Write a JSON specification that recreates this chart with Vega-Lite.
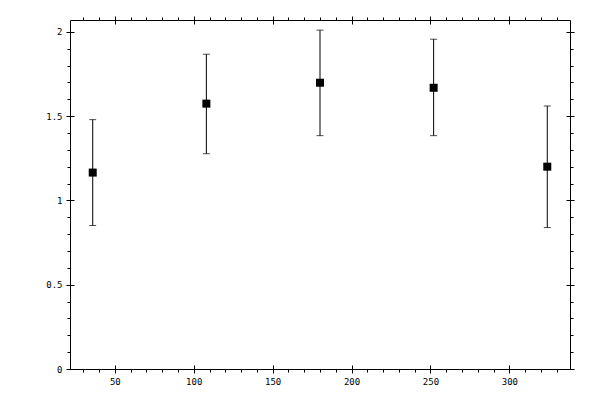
{
  "$schema": "https://vega.github.io/schema/vega-lite/v6.json",
  "width": 500,
  "height": 349,
  "autosize": "none",
  "padding": {"left": 70, "top": 20, "right": 30, "bottom": 31},
  "background": "white",
  "config": {
    "view": {"stroke": "black", "strokeWidth": 1},
    "axis": {
      "grid": false,
      "domain": false,
      "tickColor": "black",
      "tickWidth": 1,
      "labelColor": "black",
      "labelFont": "DejaVu Sans Mono",
      "labelFontSize": 9,
      "title": null
    }
  },
  "data": {
    "values": [
      {"x": 36, "y": 1.165, "lo": 0.851, "hi": 1.479},
      {"x": 108, "y": 1.574, "lo": 1.277, "hi": 1.867},
      {"x": 180, "y": 1.698, "lo": 1.384, "hi": 2.01},
      {"x": 252, "y": 1.668, "lo": 1.384, "hi": 1.956},
      {"x": 324, "y": 1.2, "lo": 0.839, "hi": 1.56}
    ]
  },
  "resolve": {"axis": {"x": "independent", "y": "independent"}},
  "layer": [
    {
      "mark": {"type": "rule", "color": "black", "strokeWidth": 1},
      "encoding": {
        "x": {
          "field": "x", "type": "quantitative",
          "scale": {"domain": [21.6, 338.4], "nice": false, "zero": false},
          "axis": {"orient": "bottom", "values": [50, 100, 150, 200, 250, 300], "offset": -4, "tickSize": 8, "labelPadding": 4, "labels": true, "format": "d"}
        },
        "y": {
          "field": "lo", "type": "quantitative",
          "scale": {"domain": [0, 2.07], "nice": false},
          "axis": {"orient": "left", "values": [0, 0.5, 1, 1.5, 2], "offset": -4, "tickSize": 8, "labelPadding": 4, "labels": true, "format": "~g"}
        },
        "y2": {"field": "hi"}
      }
    },
    {
      "mark": {"type": "tick", "orient": "horizontal", "color": "black", "size": 7, "thickness": 1},
      "encoding": {
        "x": {
          "field": "x", "type": "quantitative",
          "axis": {"orient": "bottom", "values": [30, 40, 60, 70, 80, 90, 110, 120, 130, 140, 160, 170, 180, 190, 210, 220, 230, 240, 260, 270, 280, 290, 310, 320, 330], "tickSize": 3, "labels": false}
        },
        "y": {
          "field": "lo", "type": "quantitative",
          "axis": {"orient": "left", "values": [0.1, 0.2, 0.3, 0.4, 0.6, 0.7, 0.8, 0.9, 1.1, 1.2, 1.3, 1.4, 1.6, 1.7, 1.8, 1.9], "tickSize": 3, "labels": false}
        }
      }
    },
    {
      "mark": {"type": "tick", "orient": "horizontal", "color": "black", "size": 7, "thickness": 1},
      "encoding": {
        "x": {
          "field": "x", "type": "quantitative",
          "axis": {"orient": "top", "values": [50, 100, 150, 200, 250, 300], "offset": -4, "tickSize": 8, "labels": false}
        },
        "y": {
          "field": "hi", "type": "quantitative",
          "axis": {"orient": "right", "values": [0, 0.5, 1, 1.5, 2], "offset": -4, "tickSize": 8, "labels": false}
        }
      }
    },
    {
      "mark": {"type": "square", "size": 64, "filled": true, "color": "black", "opacity": 1},
      "encoding": {
        "x": {
          "field": "x", "type": "quantitative",
          "axis": {"orient": "top", "values": [30, 40, 60, 70, 80, 90, 110, 120, 130, 140, 160, 170, 180, 190, 210, 220, 230, 240, 260, 270, 280, 290, 310, 320, 330], "tickSize": 3, "labels": false}
        },
        "y": {
          "field": "y", "type": "quantitative",
          "axis": {"orient": "right", "values": [0.1, 0.2, 0.3, 0.4, 0.6, 0.7, 0.8, 0.9, 1.1, 1.2, 1.3, 1.4, 1.6, 1.7, 1.8, 1.9], "tickSize": 3, "labels": false}
        }
      }
    }
  ]
}
